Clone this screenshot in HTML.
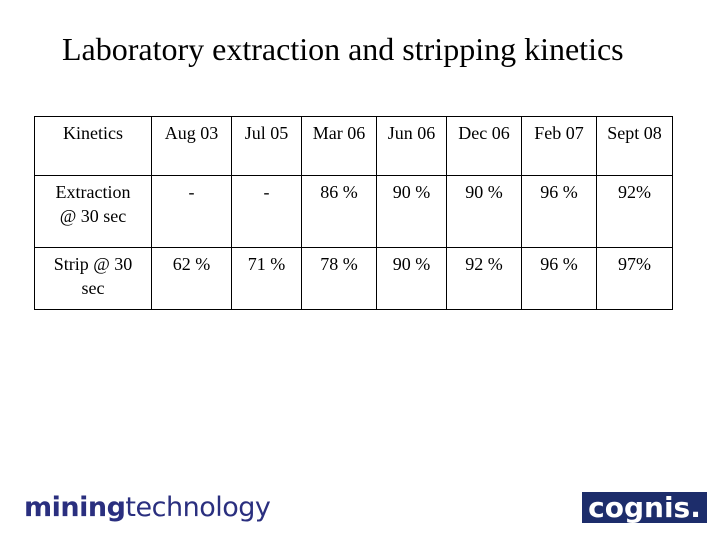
<!DOCTYPE html>
<html><head><meta charset="utf-8"><style>
body{margin:0;width:720px;height:540px;background:#fff;position:relative;overflow:hidden;font-family:"Liberation Serif",serif;}
#title{position:absolute;left:62px;top:31px;font-size:32px;color:#000;white-space:nowrap;}
table{position:absolute;left:34px;top:116px;border-collapse:collapse;}
td{border:1px solid #000;font-size:18px;text-align:center;vertical-align:top;padding:4px 2px 0;line-height:24px;box-sizing:border-box;}
#ml{position:absolute;left:24px;top:492px;font-family:"DejaVu Sans","Liberation Sans",sans-serif;font-size:27px;color:#2a2f7f;letter-spacing:-0.5px;}
#cg{position:absolute;left:582px;top:492px;width:125px;height:31px;background:#1d2d6b;color:#fff;font-family:"DejaVu Sans",sans-serif;font-weight:bold;font-size:28px;line-height:31px;text-align:center;}
</style></head><body>
<div id="title">Laboratory extraction and stripping kinetics</div>
<table>
<tr style="height:59px"><td style="width:117px">Kinetics</td><td style="width:80px">Aug 03</td><td style="width:70px">Jul 05</td><td style="width:75px">Mar 06</td><td style="width:70px">Jun 06</td><td style="width:75px">Dec 06</td><td style="width:75px">Feb 07</td><td style="width:76px">Sept 08</td></tr>
<tr style="height:72px"><td>Extraction<br>@ 30 sec</td><td>-</td><td>-</td><td>86 %</td><td>90 %</td><td>90 %</td><td>96 %</td><td>92%</td></tr>
<tr style="height:62px"><td>Strip @ 30<br>sec</td><td>62 %</td><td>71 %</td><td>78 %</td><td>90 %</td><td>92 %</td><td>96 %</td><td>97%</td></tr>
</table>
<div id="ml"><b>mining</b>technology</div>
<div id="cg">cognis.</div>
</body></html>
